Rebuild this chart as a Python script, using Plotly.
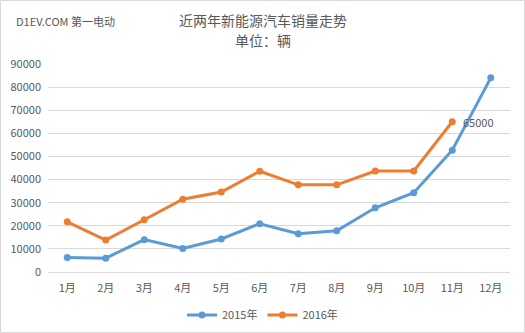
import plotly.graph_objects as go

months = ["1月", "2月", "3月", "4月", "5月", "6月", "7月", "8月", "9月", "10月", "11月", "12月"]
sales_2015 = [6300, 6000, 14000, 10200, 14300, 20900, 16600, 17800, 27800, 34300, 52700, 84000]
sales_2016 = [21700, 13800, 22600, 31500, 34600, 43600, 37700, 37700, 43700, 43700, 65000]
label_2016_nov = "65000"

FONT = "Noto Sans CJK SC"
GRAY = "#595959"
PW, PH = 462, 208
XC = (262.5 - 48) / PW  # paper-centre in plot fraction

fig = go.Figure()
fig.add_trace(go.Scatter(
    x=months, y=sales_2015, name="2015年", mode="lines+markers",
    line=dict(color="#5B9BD5", width=3), marker=dict(size=7, color="#5B9BD5"),
))
fig.add_trace(go.Scatter(
    x=months[:len(sales_2016)], y=sales_2016, name="2016年", mode="lines+markers",
    line=dict(color="#ED7D31", width=3), marker=dict(size=7, color="#ED7D31"),
))
fig.add_annotation(
    x=months[len(sales_2016) - 1], y=sales_2016[-1], text=label_2016_nov,
    showarrow=False, xanchor="left", xshift=9, font=dict(family=FONT, size=11, color=GRAY),
)

fig.update_layout(
    width=525, height=333,
    margin=dict(l=48, r=15, t=64, b=61, autoexpand=False),
    paper_bgcolor="white", plot_bgcolor="white",
    font=dict(family=FONT, size=11, color=GRAY),
    showlegend=True,
    legend=dict(orientation="h", x=XC, xanchor="center", y=-43 / PH, yanchor="middle",
                font=dict(size=11, color=GRAY), itemwidth=30, tracegroupgap=0),
    xaxis=dict(showgrid=False, showline=True, linecolor="#d9d9d9", ticks="",
               range=[-0.5, 11.5], automargin=False, ticklabelstandoff=6,
               tickfont=dict(size=11, color=GRAY)),
    yaxis=dict(range=[0, 90000], dtick=10000, showgrid=True, gridcolor="#d9d9d9",
               zeroline=False, ticks="", tickformat="d", automargin=False,
               ticklabelstandoff=6, tickfont=dict(size=11, color=GRAY)),
)

fig.add_annotation(xref="paper", yref="paper", x=XC, y=1, yshift=44, yanchor="middle",
                   text="近两年新能源汽车销量走势", showarrow=False,
                   font=dict(family=FONT, size=14, color=GRAY))
fig.add_annotation(xref="paper", yref="paper", x=XC, y=1, yshift=24, yanchor="middle",
                   text="单位：辆", showarrow=False,
                   font=dict(family=FONT, size=14, color=GRAY))
fig.add_annotation(xref="paper", yref="paper", x=-48 / PW, xshift=14, y=1, yshift=43,
                   xanchor="left", yanchor="middle",
                   text="D1EV.COM 第一电动", showarrow=False,
                   font=dict(family=FONT, size=11, color=GRAY))

# outer border
fig.add_shape(type="rect", xref="paper", yref="paper",
              x0=-47.5 / PW, x1=1 + 14.5 / PW, y0=-60.5 / PH, y1=1 + 63.5 / PH,
              line=dict(color="#d9d9d9", width=1))

fig.write_html("out.html")
